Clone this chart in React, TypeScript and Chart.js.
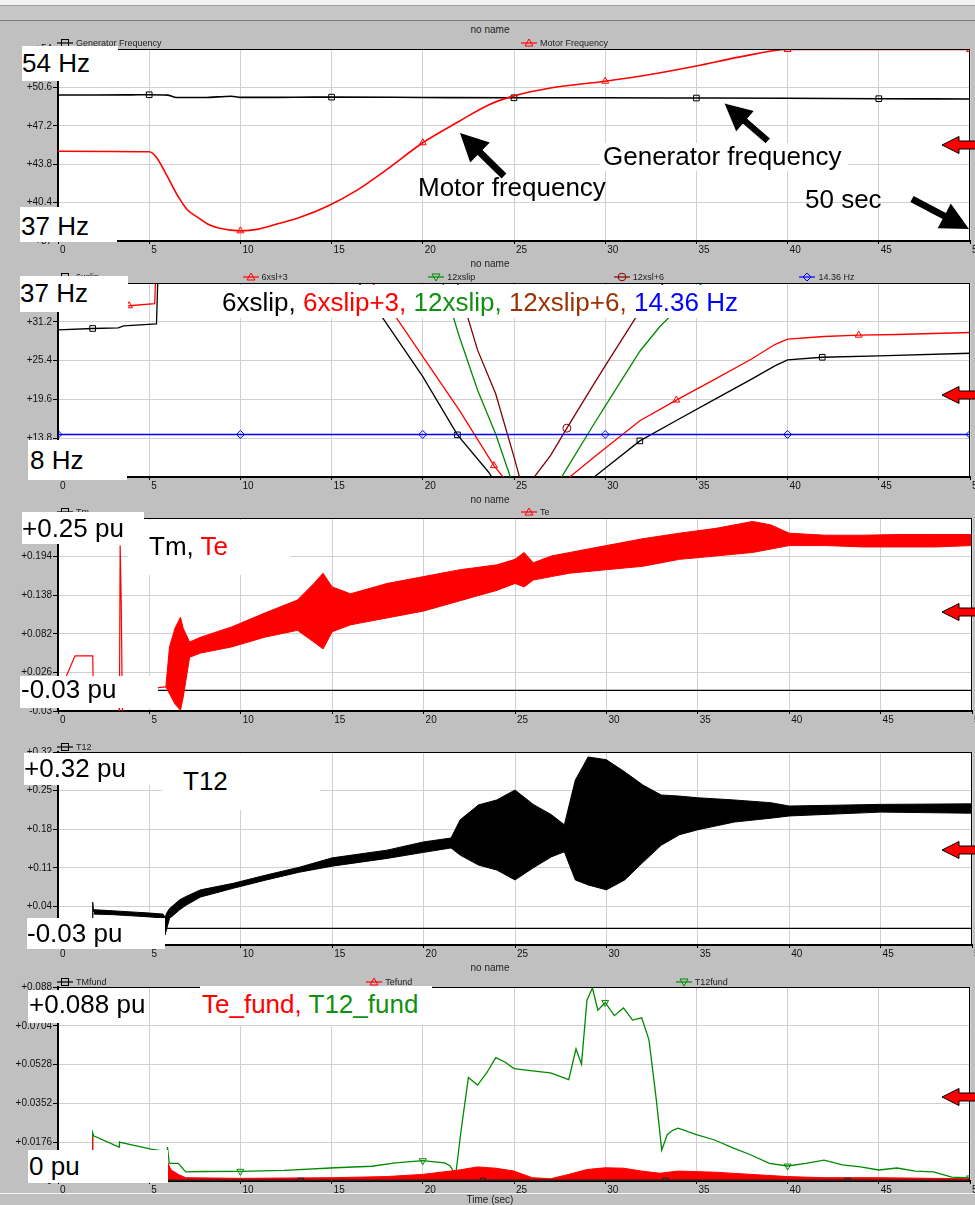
import React, { useEffect, useRef } from 'react';
import { Chart, registerables } from 'chart.js';

Chart.register(...registerables);

const FONT = '"Liberation Sans", Arial, Helvetica, sans-serif';
const PAGE_W = 975;
const PLOT_LEFT = 58;
const PLOT_RIGHT = 972;

// ---------- shared axis ----------
const X_TICKS = [0, 5, 10, 15, 20, 25, 30, 35, 40, 45, 50];

// ---------- panel 1 : frequencies ----------
const P1_Y_TICKS = [37, 40.4, 43.8, 47.2, 50.6, 54];
const P1_Y_LABELS = ['+37', '+40.4', '+43.8', '+47.2', '+50.6', '+54'];
const genT = [0, 2, 4, 5, 6, 6.5, 8, 9.5, 10, 12, 14, 15, 20, 25, 30, 35, 40, 45, 50];
const genHz = [49.93, 49.93, 49.94, 49.95, 49.92, 49.7, 49.7, 49.82, 49.72, 49.72, 49.74, 49.74, 49.71, 49.68, 49.68, 49.66, 49.64, 49.6, 49.57];
const genMarks = [5, 15, 25, 35, 45];
const motorT = [0, 5, 5.4, 6, 6.6, 7.1, 7.7, 8.2, 8.8, 10, 11, 12, 13.2, 14.8, 16.4, 18, 20, 22, 23.6, 25, 27, 30, 32.3, 35, 37.4, 40, 45, 50];
const motorHz = [44.95, 44.9, 44.4, 42.7, 40.9, 39.75, 39.05, 38.5, 38.15, 37.9, 38.05, 38.5, 39.05, 40.1, 41.5, 43.3, 45.7, 47.6, 49.05, 49.85, 50.55, 51.15, 51.7, 52.5, 53.3, 53.95, 53.95, 53.95];
const motorMarks = [10, 20, 30, 40, 50];

// ---------- panel 2 : slip frequencies ----------
const P2_Y_TICKS = [8, 13.8, 19.6, 25.4, 31.2, 37];
const P2_Y_LABELS = ['+8', '+13.8', '+19.6', '+25.4', '+31.2', '+37'];
const slip6T = [0, 1.9, 3.3, 3.6, 5.4, 5.55, 16.5, 17.8, 20, 21.9, 23.6, 25, 25.7, 26.5, 27, 27.9, 29.4, 30, 31.9, 34, 36, 38, 39.3, 40, 41.9, 45, 50];
const slip6 = [30.0, 30.2, 30.3, 30.6, 30.9, 45, 37, 31.8, 23, 14.3, 8.75, 3, 0, 1.5, 2.6, 4.65, 8, 9.3, 13.4, 16.6, 19.6, 22.6, 24.6, 25.5, 25.9, 26.1, 26.5];
const slip6Marks = [1.9, 21.9, 31.9, 41.9];
const slip6p3T = [0, 3.9, 5.3, 5.45, 16.5, 17.8, 20, 22, 23.9, 25, 25.7, 26.5, 27, 27.9, 29.4, 30, 31.9, 33.9, 36, 38, 39.3, 40, 42, 43.9, 46, 50];
const slip6p3 = [33.4, 33.6, 33.9, 45, 40, 34.8, 26, 18, 9.7, 6, 3, 4.5, 5.6, 7.65, 11, 12.3, 16.4, 19.5, 22.6, 25.6, 27.8, 28.6, 29.0, 29.2, 29.3, 29.6];
const slip6p3Marks = [3.9, 23.9, 33.9, 43.9];
const slip12T = [0, 5.5, 20, 21.1, 22, 23, 24, 24.8, 25.5, 26, 27, 27.9, 29.4, 30, 31.9, 33, 34, 35.3, 36, 50];
const slip12 = [60, 60, 46, 37, 29, 21, 14.4, 8, 0, 1.6, 5.2, 9.3, 16, 18.6, 26.8, 30.5, 33.2, 37, 40, 52];
const slip12p6T = [0, 20, 21.9, 23, 24, 25, 25.5, 26, 27, 27.9, 29.4, 30, 31.9, 33.2, 34, 50];
const slip12p6 = [66, 52, 37, 27, 20.4, 11, 6, 7.6, 11.2, 15.3, 22, 24.6, 32.8, 37, 40, 58];
const slip12p6Marks = [27.9];
const refT = [0, 10, 20, 30, 40, 50];
const refHz = [14.36, 14.36, 14.36, 14.36, 14.36, 14.36];

// ---------- panel 3 : Tm, Te ----------
const P3_Y_TICKS = [-0.03, 0.026, 0.082, 0.138, 0.194, 0.25];
const P3_Y_LABELS = ['-0.03', '+0.026', '+0.082', '+0.138', '+0.194', '+0.25'];
const tmT = [0, 50];
const tmPu = [0, 0];
const teT = [0, 0.45, 0.93, 1.9, 1.93, 3.3, 3.36, 3.4, 3.46, 3.52, 3.6, 5.5, 5.9];
const tePu = [0, 0.02, 0.05, 0.05, 0.0, 0.0, -0.03, 0.21, 0.125, -0.03, 0.0, 0.004, 0.005];
const teBandT = [5.9, 6.1, 6.4, 6.7, 6.85, 7.2, 7.8, 9.5, 11.3, 13.1, 14, 14.5, 15, 16, 18, 20, 22, 24, 25, 25.5, 26, 27, 28, 30, 32, 34, 36, 38, 39, 40, 42, 44, 46, 48, 50];
const teHi = [0.005, 0.063, 0.09, 0.106, 0.09, 0.07, 0.077, 0.092, 0.112, 0.131, 0.155, 0.17, 0.15, 0.14, 0.155, 0.165, 0.175, 0.182, 0.19, 0.2, 0.185, 0.195, 0.2, 0.21, 0.22, 0.228, 0.235, 0.245, 0.24, 0.228, 0.225, 0.225, 0.226, 0.226, 0.226];
const teLo = [0.005, -0.005, -0.02, -0.029, -0.01, 0.048, 0.054, 0.063, 0.077, 0.087, 0.07, 0.06, 0.085, 0.095, 0.105, 0.115, 0.13, 0.145, 0.155, 0.15, 0.16, 0.165, 0.17, 0.175, 0.18, 0.19, 0.195, 0.2, 0.205, 0.21, 0.21, 0.208, 0.208, 0.208, 0.21];

// ---------- panel 4 : T12 ----------
const P4_Y_TICKS = [-0.03, 0.04, 0.11, 0.18, 0.25, 0.32];
const P4_Y_LABELS = ['-0.03', '+0.04', '+0.11', '+0.18', '+0.25', '+0.32'];
const t12PreT = [0, 1.89, 1.9, 1.95];
const t12Pre = [0, 0, 0.048, 0.03];
const t12BandT = [1.95, 3, 4, 5, 5.75, 5.85, 5.95, 6.1, 6.66, 7.0, 7.8, 9.6, 11.4, 13.2, 15, 18, 20, 21.5, 22, 23, 24, 25, 26, 27, 27.7, 28.3, 29, 30, 31, 32, 33, 34, 35, 37, 39, 40, 45, 50];
const t12Hi = [0.034, 0.032, 0.03, 0.028, 0.026, 0.02, 0.028, 0.036, 0.052, 0.058, 0.07, 0.082, 0.097, 0.111, 0.128, 0.142, 0.157, 0.164, 0.197, 0.224, 0.233, 0.251, 0.225, 0.206, 0.188, 0.269, 0.311, 0.306, 0.284, 0.26, 0.242, 0.24, 0.237, 0.233, 0.228, 0.222, 0.225, 0.226];
const t12Lo = [0.026, 0.025, 0.023, 0.021, 0.019, -0.012, 0.0, 0.018, 0.034, 0.042, 0.057, 0.073, 0.088, 0.102, 0.113, 0.127, 0.138, 0.146, 0.133, 0.115, 0.106, 0.088, 0.11, 0.13, 0.139, 0.088, 0.079, 0.07, 0.088, 0.12, 0.151, 0.17, 0.179, 0.193, 0.2, 0.204, 0.211, 0.209];
const t12ZeroT = [0, 50];
const t12Zero = [0, 0];

// ---------- panel 5 : fundamentals ----------
const P5_Y_TICKS = [0, 0.0176, 0.0352, 0.0528, 0.0704, 0.088];
const P5_Y_LABELS = ['+0', '+0.0176', '+0.0352', '+0.0528', '+0.0704', '+0.088'];
const tmfT = [0, 13.3, 23.3, 33.3, 43.3, 50];
const tmf = [0, 0, 0, 0, 0, 0];
const tmfMarks = [13.3, 23.3, 33.3, 43.3];
const t12fT = [0, 1.89, 1.9, 1.95, 3.35, 3.37, 3.42, 5.1, 5.9, 5.95, 6.0, 6.1, 6.6, 7.0, 8, 10, 12.4, 15.2, 17.2, 18.5, 20, 20.5, 21.2, 21.5, 21.8, 22.1, 22.5, 23, 23.5, 24, 24.5, 25, 26, 27, 28, 28.4, 28.7, 29, 29.3, 29.6, 30, 30.5, 31, 31.5, 32, 32.4, 32.8, 33.1, 33.4, 33.7, 34, 35, 36, 37, 38, 39, 40, 41, 42, 43, 44, 45, 46, 47, 48, 49, 50];
const t12f = [0, 0, 0.0218, 0.0205, 0.0154, 0.0177, 0.0175, 0.0145, 0.0135, 0.0, 0.0154, 0.008, 0.008, 0.0041, 0.0043, 0.0044, 0.0048, 0.006, 0.0067, 0.0082, 0.0092, 0.0088, 0.0082, 0.0068, 0.0027, 0.023, 0.047, 0.0435, 0.049, 0.056, 0.054, 0.051, 0.05, 0.049, 0.046, 0.06, 0.053, 0.082, 0.0875, 0.0775, 0.081, 0.075, 0.0785, 0.073, 0.074, 0.064, 0.037, 0.014, 0.021, 0.023, 0.024, 0.021, 0.0186, 0.015, 0.0118, 0.008, 0.0068, 0.008, 0.0095, 0.0073, 0.0064, 0.005, 0.0059, 0.0045, 0.0041, 0.0018, 0.0014];
const t12fMarks = [10, 20, 30, 40, 50];
const tefPreT = [1.9, 1.9];
const tefPre = [0, 0.02];
const tefT = [5.9, 6.0, 6.2, 6.6, 7, 10, 15, 18, 20, 21, 22, 23, 24, 25, 26, 27, 28, 29, 30, 31, 32, 33, 34, 36, 38, 40, 42, 45, 48, 50];
const tefHi = [0, 0.0086, 0.005, 0.003, 0.0015, 0.0012, 0.0015, 0.002, 0.003, 0.004, 0.005, 0.0064, 0.0058, 0.0045, 0.0015, 0.001, 0.003, 0.0052, 0.006, 0.0058, 0.0045, 0.0035, 0.0045, 0.004, 0.003, 0.002, 0.0015, 0.0015, 0.0012, 0.001];

// ---------- colours ----------
const RED = '#ff0000';
const GREEN = '#008a00';
const BROWN = '#800000';
const BLUE = '#0000ff';
const BLACK = '#000000';

const xy = (t: number[], v: number[]) => t.map((x, i) => ({ x, y: v[i] }));
const marksAt = (t: number[], marks: number[], r = 4) => (ctx: any) =>
  marks.some((m) => Math.abs(m - t[ctx.dataIndex]) < 1e-6) ? r : 0;

function line(label: string, t: number[], v: number[], color: string, extra: any = {}) {
  return {
    label,
    data: xy(t, v),
    borderColor: color,
    backgroundColor: color,
    borderWidth: 1.3,
    pointRadius: 0,
    pointBackgroundColor: 'rgba(0,0,0,0)',
    pointBorderColor: color,
    pointBorderWidth: 1,
    fill: false,
    clip: 0,
    ...extra,
  };
}

const framePlugin = {
  id: 'frame',
  beforeDraw(chart: any) {
    const { ctx, chartArea: a } = chart;
    ctx.save();
    ctx.fillStyle = '#ffffff';
    ctx.fillRect(a.left, a.top, a.right - a.left, a.bottom - a.top);
    ctx.restore();
  },
  afterDraw(chart: any) {
    const { ctx, chartArea: a } = chart;
    ctx.save();
    ctx.strokeStyle = '#000';
    ctx.lineWidth = 1;
    ctx.beginPath();
    ctx.moveTo(a.left, a.top + 0.5);
    ctx.lineTo(a.right, a.top + 0.5);
    ctx.moveTo(a.right - 0.5, a.top);
    ctx.lineTo(a.right - 0.5, a.bottom);
    ctx.stroke();
    ctx.restore();
  },
};

interface PanelProps {
  plotTop: number;
  plotBottom: number;
  yTicks: number[];
  yLabels: string[];
  makeDatasets: () => any[];
}

const PAD_TOP = 6;
const AXIS_H = 20;

function Panel({ plotTop, plotBottom, yTicks, yLabels, makeDatasets }: PanelProps) {
  const ref = useRef<HTMLCanvasElement>(null);
  const h = PAD_TOP + (plotBottom - plotTop) + AXIS_H;
  useEffect(() => {
    const zeroPad = (s: any) => {
      s.paddingTop = 0;
      s.paddingBottom = 0;
      s.paddingLeft = 0;
      s.paddingRight = 0;
    };
    const chart = new Chart(ref.current as HTMLCanvasElement, {
      type: 'line',
      data: { datasets: makeDatasets() },
      options: {
        animation: false,
        responsive: false,
        events: [],
        layout: { padding: { top: PAD_TOP, left: 0, right: PAGE_W - PLOT_RIGHT, bottom: 0 } },
        plugins: { legend: { display: false }, title: { display: false }, tooltip: { enabled: false } },
        elements: { line: { tension: 0 } },
        scales: {
          x: {
            type: 'linear',
            min: 0,
            max: 50,
            afterBuildTicks: (s: any) => {
              s.ticks = X_TICKS.map((v) => ({ value: v }));
            },
            afterFit: (s: any) => {
              s.height = AXIS_H;
              zeroPad(s);
            },
            grid: { color: '#d0d0d0', lineWidth: 1, tickLength: 3, tickColor: '#000' },
            border: { color: '#000', width: 2 },
            ticks: {
              align: 'start',
              labelOffset: 2,
              padding: 0,
              autoSkip: false,
              maxRotation: 0,
              color: '#111',
              font: { size: 10, family: FONT },
              callback: (_v: any, i: number) => String(X_TICKS[i]),
            },
          },
          y: {
            type: 'linear',
            min: yTicks[0],
            max: yTicks[yTicks.length - 1],
            afterBuildTicks: (s: any) => {
              s.ticks = yTicks.map((v) => ({ value: v }));
            },
            afterFit: (s: any) => {
              s.width = PLOT_LEFT;
              zeroPad(s);
            },
            grid: { color: '#d0d0d0', lineWidth: 1, tickLength: 5, tickColor: '#000' },
            border: { color: '#000', width: 2 },
            ticks: {
              padding: 1,
              autoSkip: false,
              color: '#111',
              font: { size: 10, family: FONT },
              callback: (_v: any, i: number) => yLabels[i],
            },
          },
        },
      } as any,
      plugins: [framePlugin],
    });
    return () => chart.destroy();
  }, []);
  return (
    <canvas
      ref={ref}
      width={PAGE_W}
      height={h}
      style={{ position: 'absolute', left: 0, top: plotTop - PAD_TOP, width: PAGE_W, height: h }}
    />
  );
}

// ---------- dataset builders ----------
const p1Sets = () => [
  line('Motor Frequency', motorT, motorHz, RED, {
    borderWidth: 1.6,
    cubicInterpolationMode: 'monotone',
    pointStyle: 'triangle',
    pointRadius: marksAt(motorT, motorMarks),
  }),
  line('Generator Frequency', genT, genHz, BLACK, {
    borderWidth: 1.6,
    cubicInterpolationMode: 'monotone',
    pointStyle: 'rect',
    pointRadius: marksAt(genT, genMarks),
  }),
];

const p2Sets = () => [
  line('14.36 Hz', refT, refHz, BLUE, { borderWidth: 1.6, pointStyle: 'rectRot', pointRadius: 4 }),
  line('6xslip', slip6T, slip6, BLACK, { pointStyle: 'rect', pointRadius: marksAt(slip6T, slip6Marks) }),
  line('6xsl+3', slip6p3T, slip6p3, RED, { pointStyle: 'triangle', pointRadius: marksAt(slip6p3T, slip6p3Marks) }),
  line('12xslip', slip12T, slip12, GREEN, {}),
  line('12xsl+6', slip12p6T, slip12p6, BROWN, { pointStyle: 'circle', pointRadius: marksAt(slip12p6T, slip12p6Marks) }),
];

const p3Sets = () => [
  line('Te', teT, tePu, RED, { borderWidth: 1.2 }),
  line('Te hi', teBandT, teHi, RED, { borderWidth: 1 }),
  line('Te lo', teBandT, teLo, RED, { borderWidth: 1, fill: '-1', backgroundColor: RED }),
  line('Tm', tmT, tmPu, BLACK, { borderWidth: 1.2 }),
];

const p4Sets = () => [
  line('T12', t12PreT, t12Pre, BLACK, { borderWidth: 1.2 }),
  line('T12 hi', t12BandT, t12Hi, BLACK, { borderWidth: 1 }),
  line('T12 lo', t12BandT, t12Lo, BLACK, { borderWidth: 1, fill: '-1', backgroundColor: '#000' }),
  line('zero', t12ZeroT, t12Zero, BLACK, { borderWidth: 1.2 }),
];

const p5Sets = () => [
  line('TMfund', tmfT, tmf, '#222', { borderWidth: 3, pointStyle: 'rect', pointRadius: marksAt(tmfT, tmfMarks) }),
  line('Tefund', tefT, tefHi, RED, { borderWidth: 1, fill: 'origin', backgroundColor: RED }),
  line('Tefund pre', tefPreT, tefPre, RED, { borderWidth: 1.2 }),
  line('T12fund', t12fT, t12f, GREEN, {
    borderWidth: 1.3,
    pointStyle: 'triangle',
    pointRotation: 180,
    pointRadius: marksAt(t12fT, t12fMarks),
  }),
];

// ---------- overlays ----------
function MarkerIcon({ kind, color }: { kind: string; color: string }) {
  const c = 8;
  const cy = 5;
  let m: any = null;
  if (kind === 'rect') m = <rect x={c - 3.5} y={cy - 3.5} width={7} height={7} fill="none" stroke={color} strokeWidth={1} />;
  if (kind === 'tri') m = <polygon points={`${c},${cy - 4} ${c + 4},${cy + 3} ${c - 4},${cy + 3}`} fill="none" stroke={color} strokeWidth={1} />;
  if (kind === 'itri') m = <polygon points={`${c},${cy + 4} ${c + 4},${cy - 3} ${c - 4},${cy - 3}`} fill="none" stroke={color} strokeWidth={1} />;
  if (kind === 'circle') m = <circle cx={c} cy={cy} r={3.8} fill="none" stroke={color} strokeWidth={1} />;
  if (kind === 'diamond') m = <polygon points={`${c},${cy - 4} ${c + 4},${cy} ${c},${cy + 4} ${c - 4},${cy}`} fill="none" stroke={color} strokeWidth={1} />;
  return (
    <svg width={16} height={10} style={{ display: 'block' }}>
      <line x1={0} y1={cy} x2={16} y2={cy} stroke={color} strokeWidth={1.2} />
      {m}
    </svg>
  );
}

function Legend({ y, items }: { y: number; items: { label: string; color: string; kind: string }[] }) {
  const step = 928 / items.length;
  return (
    <>
      {items.map((it, k) => (
        <div
          key={it.label}
          style={{
            position: 'absolute',
            left: 57 + k * step,
            top: y - 6,
            height: 12,
            display: 'flex',
            alignItems: 'center',
            fontSize: 9,
            color: '#222',
            whiteSpace: 'nowrap',
          }}
        >
          <MarkerIcon kind={it.kind} color={it.color} />
          <span style={{ marginLeft: 3 }}>{it.label}</span>
        </div>
      ))}
    </>
  );
}

function Title({ y, text }: { y: number; text: string }) {
  return (
    <div style={{ position: 'absolute', left: 390, width: 200, top: y - 6, textAlign: 'center', fontSize: 10, color: '#222', lineHeight: '12px' }}>
      {text}
    </div>
  );
}

function Note({ x, y, w, h, tx, base, size = 26, bg = '#fff', children }: any) {
  return (
    <div style={{ position: 'absolute', left: x, top: y, width: w, height: h, background: bg }}>
      <div
        style={{
          position: 'absolute',
          left: tx - x,
          top: base - y - 0.8465 * size,
          fontSize: size,
          lineHeight: `${size}px`,
          whiteSpace: 'nowrap',
          color: '#000',
        }}
      >
        {children}
      </div>
    </div>
  );
}

function arrowPoints(tx: number, ty: number, sx: number, sy: number, headLen: number, headHalf: number, shaftHalf: number) {
  const dx = sx - tx;
  const dy = sy - ty;
  const L = Math.hypot(dx, dy);
  const ux = dx / L;
  const uy = dy / L;
  const px = -uy;
  const py = ux;
  const bx = tx + ux * headLen;
  const by = ty + uy * headLen;
  const pts = [
    [tx, ty],
    [bx + px * headHalf, by + py * headHalf],
    [bx + px * shaftHalf, by + py * shaftHalf],
    [sx + px * shaftHalf, sy + py * shaftHalf],
    [sx - px * shaftHalf, sy - py * shaftHalf],
    [bx - px * shaftHalf, by - py * shaftHalf],
    [bx - px * headHalf, by - py * headHalf],
  ];
  return pts.map((p) => `${p[0].toFixed(1)},${p[1].toFixed(1)}`).join(' ');
}

const RED_ARROW_Y = [145, 395, 612, 850, 1097];

export default function App() {
  useEffect(() => {
    document.body.style.margin = '0';
  }, []);
  return (
    <div
      style={{
        position: 'absolute',
        left: 0,
        top: 0,
        width: PAGE_W,
        height: 1205,
        background: '#c0c0c0',
        overflow: 'hidden',
        fontFamily: FONT,
      }}
    >
      {/* window chrome */}
      <div style={{ position: 'absolute', left: 0, top: 0, width: PAGE_W, height: 5, background: '#f2f2f2' }} />
      <div style={{ position: 'absolute', left: 0, top: 5, width: PAGE_W, height: 1, background: '#a0a0a0' }} />
      <div style={{ position: 'absolute', left: 0, top: 6, width: PAGE_W, height: 14, background: '#c6c6c6' }} />
      <div style={{ position: 'absolute', left: 0, top: 20, width: PAGE_W, height: 1, background: '#7a7a7a' }} />
      <div style={{ position: 'absolute', left: 0, top: 1193, width: PAGE_W, height: 1, background: '#f4f4f4' }} />

      <Panel plotTop={49} plotBottom={241} yTicks={P1_Y_TICKS} yLabels={P1_Y_LABELS} makeDatasets={p1Sets} />
      <Panel plotTop={283} plotBottom={477} yTicks={P2_Y_TICKS} yLabels={P2_Y_LABELS} makeDatasets={p2Sets} />
      <Panel plotTop={518} plotBottom={711} yTicks={P3_Y_TICKS} yLabels={P3_Y_LABELS} makeDatasets={p3Sets} />
      <Panel plotTop={752} plotBottom={945} yTicks={P4_Y_TICKS} yLabels={P4_Y_LABELS} makeDatasets={p4Sets} />
      <Panel plotTop={987} plotBottom={1181} yTicks={P5_Y_TICKS} yLabels={P5_Y_LABELS} makeDatasets={p5Sets} />

      {/* titles */}
      <Title y={30} text="no name" />
      <Title y={264} text="no name" />
      <Title y={500} text="no name" />
      <Title y={968} text="no name" />
      <div style={{ position: 'absolute', left: 390, width: 200, top: 1194, textAlign: 'center', fontSize: 10, color: '#222' }}>Time (sec)</div>

      {/* legends */}
      <Legend y={43} items={[{ label: 'Generator Frequency', color: BLACK, kind: 'rect' }, { label: 'Motor Frequency', color: RED, kind: 'tri' }]} />
      <Legend
        y={277}
        items={[
          { label: '6xslip', color: BLACK, kind: 'rect' },
          { label: '6xsl+3', color: RED, kind: 'tri' },
          { label: '12xslip', color: GREEN, kind: 'itri' },
          { label: '12xsl+6', color: BROWN, kind: 'circle' },
          { label: '14.36 Hz', color: BLUE, kind: 'diamond' },
        ]}
      />
      <Legend y={512} items={[{ label: 'Tm', color: BLACK, kind: 'rect' }, { label: 'Te', color: RED, kind: 'tri' }]} />
      <Legend y={747} items={[{ label: 'T12', color: BLACK, kind: 'rect' }]} />
      <Legend
        y={982}
        items={[
          { label: 'TMfund', color: BLACK, kind: 'rect' },
          { label: 'Tefund', color: RED, kind: 'tri' },
          { label: 'T12fund', color: GREEN, kind: 'itri' },
        ]}
      />

      {/* annotations panel 1 */}
      <Note x={22} y={46} w={96} h={35} tx={22} base={72}>54 Hz</Note>
      <Note x={20} y={207} w={97} h={35} tx={21} base={235}>37 Hz</Note>
      <Note x={418} y={176} w={0} h={0} tx={418} base={196} bg="transparent">Motor frequency</Note>
      <Note x={600} y={143} w={248} h={28} tx={603} base={165}>Generator frequency</Note>
      <Note x={805} y={190} w={0} h={0} tx={805} base={208} bg="transparent">50 sec</Note>

      {/* annotations panel 2 */}
      <Note x={20} y={276} w={108} h={36} tx={20} base={302}>37 Hz</Note>
      <Note x={28} y={440} w={99} h={40} tx={30} base={469}>8 Hz</Note>
      <Note x={213} y={285} w={548} h={33} tx={222} base={311}>
        <span style={{ color: '#000' }}>6xslip, </span>
        <span style={{ color: '#ff0000' }}>6xslip+3, </span>
        <span style={{ color: '#109010' }}>12xslip, </span>
        <span style={{ color: '#993300' }}>12xslip+6, </span>
        <span style={{ color: '#0000ff' }}>14.36 Hz</span>
      </Note>

      {/* annotations panel 3 */}
      <Note x={22} y={512} w={122} h={32} tx={22} base={537}>+0.25 pu</Note>
      <Note x={128} y={520} w={162} h={55} tx={149} base={555}>
        <span>Tm, </span>
        <span style={{ color: '#ff0000' }}>Te</span>
      </Note>
      <Note x={20} y={676} w={138} h={32} tx={21} base={698}>-0.03 pu</Note>

      {/* annotations panel 4 */}
      <Note x={24} y={753} w={138} h={32} tx={24} base={777}>+0.32 pu</Note>
      <Note x={162} y={754} w={158} h={56} tx={183} base={790}>T12</Note>
      <Note x={27} y={918} w={138} h={31} tx={27} base={942}>-0.03 pu</Note>

      {/* annotations panel 5 */}
      <Note x={28} y={990} w={118} h={33} tx={29} base={1013}>+0.088 pu</Note>
      <Note x={200} y={986} w={232} h={39} tx={202} base={1013}>
        <span style={{ color: '#ff0000' }}>Te_fund, </span>
        <span style={{ color: '#109010' }}>T12_fund</span>
      </Note>
      <Note x={28} y={1150} w={140} h={33} tx={29} base={1175}>0 pu</Note>

      {/* arrows */}
      <svg width={PAGE_W} height={1205} style={{ position: 'absolute', left: 0, top: 0, pointerEvents: 'none' }}>
        <polygon points={arrowPoints(460, 133, 504, 176, 28, 14, 3.5)} fill="#000" />
        <polygon points={arrowPoints(724, 103, 768, 141, 28, 14, 3.5)} fill="#000" stroke="#fff" strokeWidth={0.8} />
        <polygon points={arrowPoints(969, 229, 912, 199, 28, 14, 3.5)} fill="#000" />
        {RED_ARROW_Y.map((y) => (
          <polygon key={y} points={arrowPoints(942, y, 990, y, 17, 8.5, 4)} fill="#ff0000" stroke="#000" strokeWidth={1} />
        ))}
      </svg>
    </div>
  );
}
